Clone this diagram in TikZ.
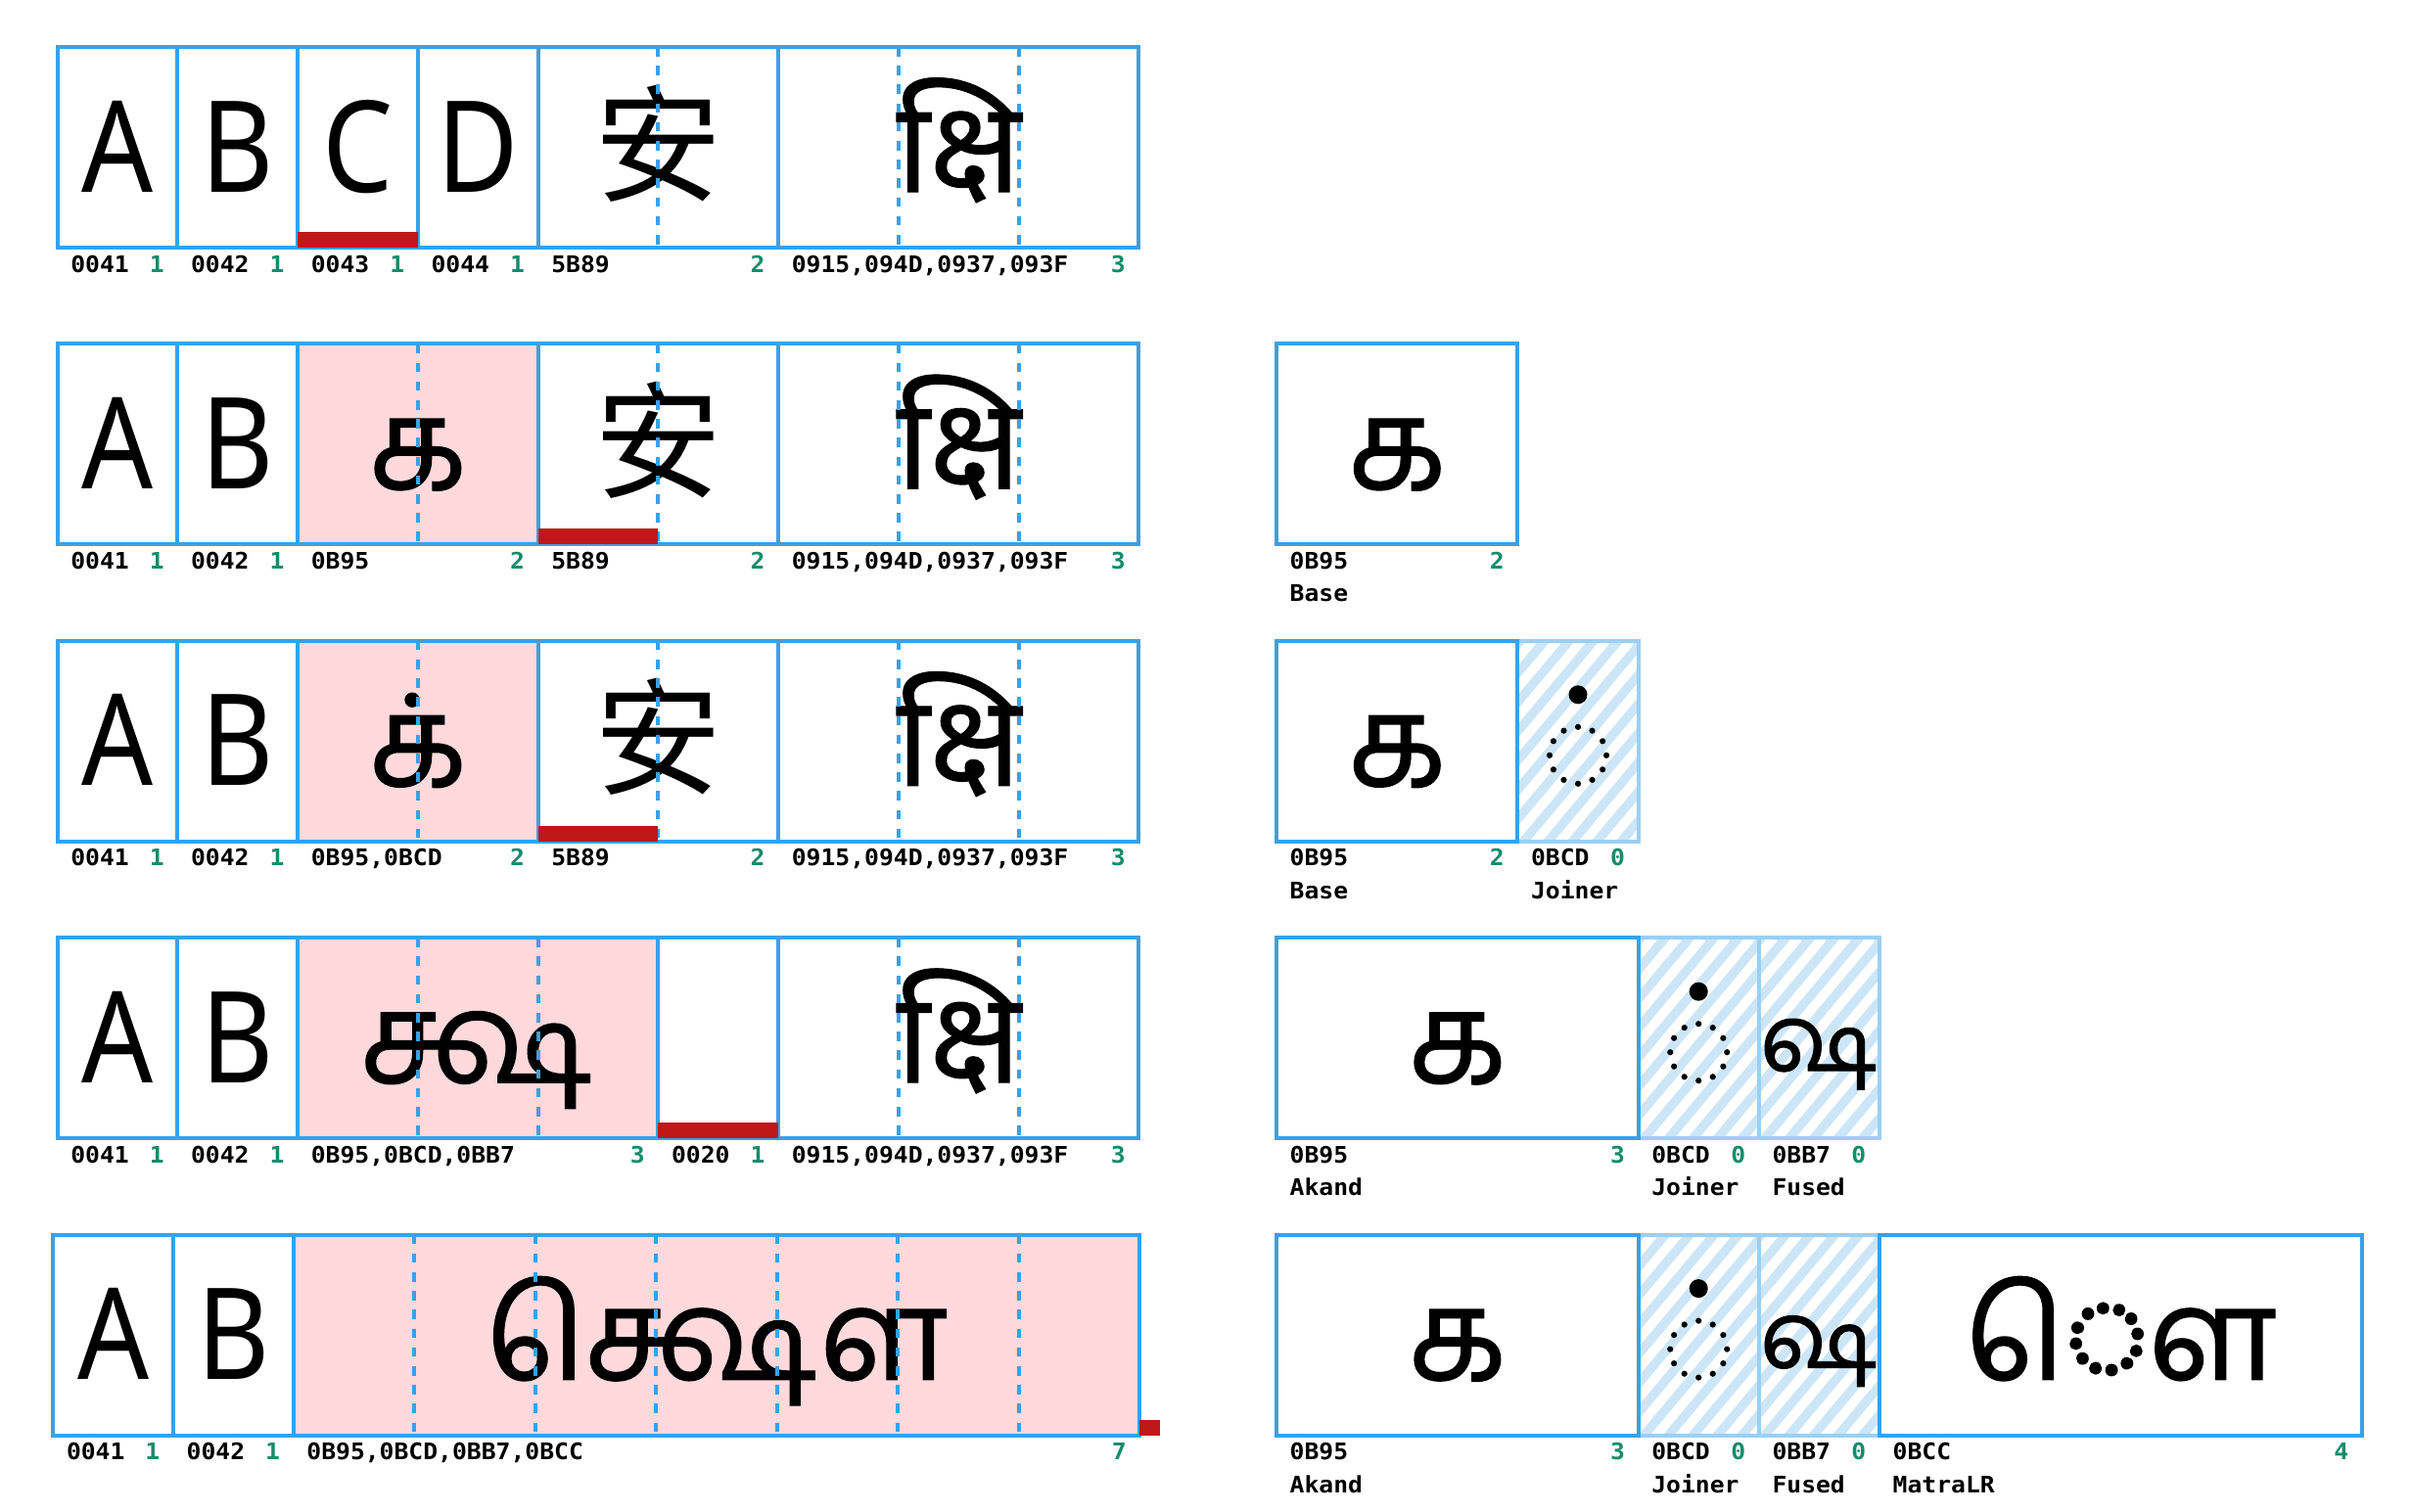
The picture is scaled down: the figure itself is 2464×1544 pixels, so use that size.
\documentclass[tikz,border=0pt]{standalone}
\usepackage{fontspec}
\newfontfamily\latinfont[FakeStretch=0.88]{Noto Sans}
\newfontfamily\devafont[Script=Devanagari,FakeBold=0.8]{Noto Sans}
\newfontfamily\tamilfont[Script=Tamil,FakeBold=1]{Hind Madurai}
\newfontfamily\cjkfont{Noto Sans CJK SC}
\newfontfamily\labfont[FakeStretch=1.06]{DejaVu Sans Mono}

\definecolor{gblue}{RGB}{54,162,235}
\definecolor{gpink}{RGB}{255,217,219}
\definecolor{ghatch}{RGB}{204,230,248}
\definecolor{gred}{RGB}{190,24,25}
\definecolor{ggreen}{RGB}{20,140,108}

\newcommand\gsz{\fontsize{130}{130}\selectfont}
\newcommand\fsz{\fontsize{95}{95}\selectfont}
\newcommand\lsz{\fontsize{23.3}{23.3}\selectfont}

\tikzset{
  glyph/.style={anchor=base, inner sep=0pt, outer sep=0pt},
  lat/.style={glyph, font=\latinfont\gsz},
  cjk/.style={glyph, font=\cjkfont\gsz},
  deva/.style={glyph, font=\devafont\gsz},
  tam/.style={glyph, font=\tamilfont\gsz},
  tamsmall/.style={glyph, font=\tamilfont\fsz},
  cellbox/.style={draw=gblue, line width=4pt},
  hatchbox/.style={draw=gblue!50!white, line width=4pt},
  pinkfill/.style={fill=gpink},
  divider/.style={draw=gblue, line width=4pt, dash pattern=on 9.6pt off 9.6pt},
  cursor/.style={fill=gred},
  codelab/.style={anchor=base west, inner sep=0pt, font=\labfont\bfseries\lsz, text=black},
  numlab/.style={anchor=base east, inner sep=0pt, font=\labfont\bfseries\lsz, text=ggreen},
  anchorpt/.style={inner sep=0pt, outer sep=0pt, minimum size=0pt},
}

% #1 name, #2 x1, #3 x2, #4 row bottom, #5 code, #6 count
\newcommand\labpair[6]{%
  \node[codelab] (#1c) at ({#2+13.5},{#4+25}) {#5};
  \node[numlab] (#1n) at ({#3-13.5},{#4+25}) {#6};}
% #1 name, #2 x1, #3 row bottom, #4 text
\newcommand\catlab[4]{%
  \node[codelab] (#1k) at ({#2+13.5},{#3+58.5}) {#4};}
% #1 x1, #2 x2, #3 top
\newcommand\hatchcell[3]{%
  \begin{scope}
    \clip (#1,#3) rectangle (#2,{#3+205});
    \fill[ghatch] (#1,#3) rectangle (#2,{#3+205});
    \foreach \k in {0,...,17}{\draw[white,line width=9.6pt] ({#1-190+25*\k},{#3+215}) -- ++(180,-215);}
  \end{scope}}
% virama with dotted circle: #1 name, #2 centre x, #3 row top
\newcommand\joinerglyph[3]{%
  \node[anchorpt] (#1) at (#2,{#3+117}) {};
  \foreach \a in {0,30,...,330}{\fill[black] ($(#1)+(\a:29)$) circle (3.1);}
  \fill[black] (#2,{#3+55}) circle (9.5);}

\usetikzlibrary{calc}

\begin{document}
\begin{tikzpicture}[x=1pt,y=-1pt]
\useasboundingbox (0,0) rectangle (2464,1544);
\fill[white] (0,0) rectangle (2464,1544);

% ================= fills =================
\fill[pinkfill] (304.1,351.4) rectangle (549.6,556.4);
\fill[pinkfill] (304.1,654.8) rectangle (549.6,859.8);
\fill[pinkfill] (304.1,958.2) rectangle (672.35,1163.2);
\fill[pinkfill] (299.7,1261.6) rectangle (1164.48,1466.6);
\hatchcell{1550.4}{1673.6}{654.8}
\hatchcell{1673.6}{1796.8}{958.2}
\hatchcell{1796.8}{1920}{958.2}
\hatchcell{1673.6}{1796.8}{1261.6}
\hatchcell{1796.8}{1920}{1261.6}

% ================= row 1 =================
\node[lat] (r1A) at (119.975,196) {A};
\node[lat] (r1B) at (242.725,196) {B};
\node[lat] (r1C) at (365.475,196) {C};
\node[lat] (r1D) at (488.225,196) {D};
\node[cjk] (r1an) at (672.35,196) {安};
\node[deva] (r1ks) at (979.225,196) {क्षि};
\draw[divider] (672.35,48) -- (672.35,253);
\draw[divider] (917.85,48) -- (917.85,253);
\draw[divider] (1040.6,48) -- (1040.6,253);
\draw[cellbox] (58.6,48) rectangle (181.35,253);
\draw[cellbox] (181.35,48) rectangle (304.1,253);
\draw[cellbox] (304.1,48) rectangle (426.85,253);
\draw[cellbox] (426.85,48) rectangle (549.6,253);
\draw[cellbox] (549.6,48) rectangle (795.1,253);
\draw[cellbox] (795.1,48) rectangle (1163.35,253);
\fill[cursor] (304.1,237) rectangle (426.85,253);
\labpair{r1a}{58.6}{181.35}{253}{0041}{1}
\labpair{r1b}{181.35}{304.1}{253}{0042}{1}
\labpair{r1c}{304.1}{426.85}{253}{0043}{1}
\labpair{r1d}{426.85}{549.6}{253}{0044}{1}
\labpair{r1e}{549.6}{795.1}{253}{5B89}{2}
\labpair{r1f}{795.1}{1163.35}{253}{0915,094D,0937,093F}{3}

% ================= row 2 =================
\node[lat] (r2A) at (119.975,499.4) {A};
\node[lat] (r2B) at (242.725,499.4) {B};
\node[tam] (r2ka) at (426.85,499.4) {க};
\node[cjk] (r2an) at (672.35,499.4) {安};
\node[deva] (r2ks) at (979.225,499.4) {क्षि};
\draw[divider] (426.85,351.4) -- (426.85,556.4);
\draw[divider] (672.35,351.4) -- (672.35,556.4);
\draw[divider] (917.85,351.4) -- (917.85,556.4);
\draw[divider] (1040.6,351.4) -- (1040.6,556.4);
\draw[cellbox] (58.6,351.4) rectangle (181.35,556.4);
\draw[cellbox] (181.35,351.4) rectangle (304.1,556.4);
\draw[cellbox] (304.1,351.4) rectangle (549.6,556.4);
\draw[cellbox] (549.6,351.4) rectangle (795.1,556.4);
\draw[cellbox] (795.1,351.4) rectangle (1163.35,556.4);
\fill[cursor] (549.6,540.4) rectangle (672.35,556.4);
\labpair{r2a}{58.6}{181.35}{556.4}{0041}{1}
\labpair{r2b}{181.35}{304.1}{556.4}{0042}{1}
\labpair{r2c}{304.1}{549.6}{556.4}{0B95}{2}
\labpair{r2e}{549.6}{795.1}{556.4}{5B89}{2}
\labpair{r2f}{795.1}{1163.35}{556.4}{0915,094D,0937,093F}{3}
% right
\node[tam] (s2ka) at (1427.2,499.4) {க};
\draw[cellbox] (1304,351.4) rectangle (1550.4,556.4);
\labpair{s2a}{1304}{1550.4}{556.4}{0B95}{2}
\catlab{s2a}{1304}{556.4}{Base}

% ================= row 3 =================
\node[lat] (r3A) at (119.975,802.8) {A};
\node[lat] (r3B) at (242.725,802.8) {B};
\node[tam] (r3ka) at (426.85,802.8) {க்};
\node[cjk] (r3an) at (672.35,802.8) {安};
\node[deva] (r3ks) at (979.225,802.8) {क्षि};
\draw[divider] (426.85,654.8) -- (426.85,859.8);
\draw[divider] (672.35,654.8) -- (672.35,859.8);
\draw[divider] (917.85,654.8) -- (917.85,859.8);
\draw[divider] (1040.6,654.8) -- (1040.6,859.8);
\draw[cellbox] (58.6,654.8) rectangle (181.35,859.8);
\draw[cellbox] (181.35,654.8) rectangle (304.1,859.8);
\draw[cellbox] (304.1,654.8) rectangle (549.6,859.8);
\draw[cellbox] (549.6,654.8) rectangle (795.1,859.8);
\draw[cellbox] (795.1,654.8) rectangle (1163.35,859.8);
\fill[cursor] (549.6,843.8) rectangle (672.35,859.8);
\labpair{r3a}{58.6}{181.35}{859.8}{0041}{1}
\labpair{r3b}{181.35}{304.1}{859.8}{0042}{1}
\labpair{r3c}{304.1}{549.6}{859.8}{0B95,0BCD}{2}
\labpair{r3e}{549.6}{795.1}{859.8}{5B89}{2}
\labpair{r3f}{795.1}{1163.35}{859.8}{0915,094D,0937,093F}{3}
% right
\node[tam] (s3ka) at (1427.2,802.8) {க};
\joinerglyph{s3vi}{1612}{654.8}
\draw[hatchbox] (1550.4,654.8) rectangle (1673.6,859.8);
\draw[cellbox] (1304,654.8) rectangle (1550.4,859.8);
\labpair{s3a}{1304}{1550.4}{859.8}{0B95}{2}
\catlab{s3a}{1304}{859.8}{Base}
\labpair{s3b}{1550.4}{1673.6}{859.8}{0BCD}{0}
\catlab{s3b}{1550.4}{859.8}{Joiner}

% ================= row 4 =================
\node[lat] (r4A) at (119.975,1106.2) {A};
\node[lat] (r4B) at (242.725,1106.2) {B};
\node[tam] (r4ks) at (488.225,1106.2) {க்ஷ};
\node[deva] (r4kd) at (979.225,1106.2) {क्षि};
\draw[divider] (426.85,958.2) -- (426.85,1163.2);
\draw[divider] (549.6,958.2) -- (549.6,1163.2);
\draw[divider] (917.85,958.2) -- (917.85,1163.2);
\draw[divider] (1040.6,958.2) -- (1040.6,1163.2);
\draw[cellbox] (58.6,958.2) rectangle (181.35,1163.2);
\draw[cellbox] (181.35,958.2) rectangle (304.1,1163.2);
\draw[cellbox] (304.1,958.2) rectangle (672.35,1163.2);
\draw[cellbox] (672.35,958.2) rectangle (795.1,1163.2);
\draw[cellbox] (795.1,958.2) rectangle (1163.35,1163.2);
\fill[cursor] (672.35,1147.2) rectangle (795.1,1163.2);
\labpair{r4a}{58.6}{181.35}{1163.2}{0041}{1}
\labpair{r4b}{181.35}{304.1}{1163.2}{0042}{1}
\labpair{r4c}{304.1}{672.35}{1163.2}{0B95,0BCD,0BB7}{3}
\labpair{r4d}{672.35}{795.1}{1163.2}{0020}{1}
\labpair{r4f}{795.1}{1163.35}{1163.2}{0915,094D,0937,093F}{3}
% right
\node[tam] (s4ka) at (1488.8,1106.2) {க};
\joinerglyph{s4vi}{1735.2}{958.2}
\node[tamsmall] (s4ss) at (1858.4,1094.2) {ஷ};
\draw[hatchbox] (1673.6,958.2) rectangle (1796.8,1163.2);
\draw[hatchbox] (1796.8,958.2) rectangle (1920,1163.2);
\draw[cellbox] (1304,958.2) rectangle (1673.6,1163.2);
\labpair{s4a}{1304}{1673.6}{1163.2}{0B95}{3}
\catlab{s4a}{1304}{1163.2}{Akand}
\labpair{s4b}{1673.6}{1796.8}{1163.2}{0BCD}{0}
\catlab{s4b}{1673.6}{1163.2}{Joiner}
\labpair{s4c}{1796.8}{1920}{1163.2}{0BB7}{0}
\catlab{s4c}{1796.8}{1163.2}{Fused}

% ================= row 5 =================
\node[lat] (r5A) at (115.65,1409.6) {A};
\node[lat] (r5B) at (238.35,1409.6) {B};
\node[tam] (r5ks) at (732.09,1409.6) {க்ஷௌ};
\foreach \xx in {423.24,546.78,670.32,793.86,917.4,1040.94}
  \draw[divider] (\xx,1261.6) -- (\xx,1466.6);
\draw[cellbox] (54.3,1261.6) rectangle (177,1466.6);
\draw[cellbox] (177,1261.6) rectangle (299.7,1466.6);
\draw[cellbox] (299.7,1261.6) rectangle (1164.48,1466.6);
\fill[cursor] (1164.48,1450.6) rectangle (1185,1466.6);
\labpair{r5a}{54.3}{177}{1466.6}{0041}{1}
\labpair{r5b}{177}{299.7}{1466.6}{0042}{1}
\labpair{r5c}{299.7}{1164.48}{1466.6}{0B95,0BCD,0BB7,0BCC}{7}
% right
\node[tam] (s5ka) at (1488.8,1409.6) {க};
\joinerglyph{s5vi}{1735.2}{1261.6}
\node[tamsmall] (s5ss) at (1858.4,1397.6) {ஷ};
\node[tam] (s5au) at (2166.4,1409.6) {◌ௌ};
\draw[hatchbox] (1673.6,1261.6) rectangle (1796.8,1466.6);
\draw[hatchbox] (1796.8,1261.6) rectangle (1920,1466.6);
\draw[cellbox] (1304,1261.6) rectangle (1673.6,1466.6);
\draw[cellbox] (1920,1261.6) rectangle (2412.8,1466.6);
\labpair{s5a}{1304}{1673.6}{1466.6}{0B95}{3}
\catlab{s5a}{1304}{1466.6}{Akand}
\labpair{s5b}{1673.6}{1796.8}{1466.6}{0BCD}{0}
\catlab{s5b}{1673.6}{1466.6}{Joiner}
\labpair{s5c}{1796.8}{1920}{1466.6}{0BB7}{0}
\catlab{s5c}{1796.8}{1466.6}{Fused}
\labpair{s5d}{1920}{2412.8}{1466.6}{0BCC}{4}
\catlab{s5d}{1920}{1466.6}{MatraLR}
\end{tikzpicture}
\end{document}
